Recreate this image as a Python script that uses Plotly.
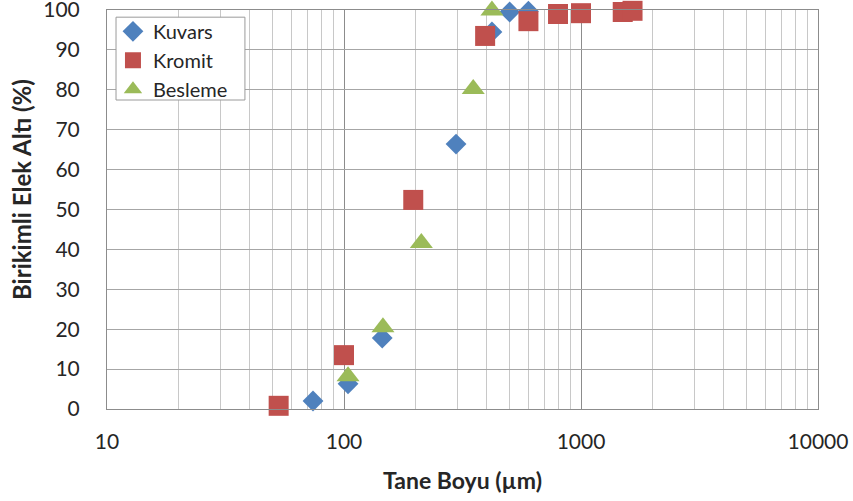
import plotly.graph_objects as go

kuvars_x = [74, 104, 145, 297, 421, 500, 600]
kuvars_y = [2, 6.3, 17.8, 66.4, 94.5, 99.5, 99.7]

kromit_x = [53, 100, 196, 394, 600, 800, 1000, 1500, 1650]
kromit_y = [0.8, 13.5, 52.4, 93.5, 97.2, 99.0, 99.2, 99.5, 99.8]

besleme_x = [104, 146, 212, 351, 421]
besleme_y = [8.2, 20.5, 41.6, 80.2, 99.9]

x_ticks = [10, 100, 1000, 10000]
x_ticklabels = ["10", "100", "1000", "10000"]
y_ticks = list(range(0, 101, 10))

font_family = "Lato, Open Sans, sans-serif"
txt = "#262626"

fig = go.Figure()
fig.add_trace(go.Scatter(x=kuvars_x, y=kuvars_y, mode="markers", name="Kuvars",
                         marker=dict(symbol="diamond", size=16, color="#4F81BD"),
                         cliponaxis=False))
fig.add_trace(go.Scatter(x=kromit_x, y=kromit_y, mode="markers", name="Kromit",
                         marker=dict(symbol="square", size=20, color="#C0504D"),
                         cliponaxis=False))
fig.add_trace(go.Scatter(x=besleme_x, y=besleme_y, mode="markers", name="Besleme",
                         marker=dict(symbol="triangle-up", size=20, color="#9BBB59"),
                         cliponaxis=False))

# legend frame drawn as a shape so its size matches the original
fig.add_shape(type="rect", xref="paper", yref="paper",
              x0=0.0127, x1=0.194, y0=0.7744, y1=0.982,
              line=dict(color="#9a9a9a", width=1), fillcolor="white", layer="above")

# y-axis title as an annotation for exact placement
fig.add_annotation(text="<b>Birikimli Elek Altı (%)</b>", xref="paper", yref="paper",
                   x=-0.1195, y=0.549, xanchor="center", yanchor="middle",
                   textangle=-90, showarrow=False,
                   font=dict(size=24, color=txt, family=font_family))

fig.update_layout(
    width=853, height=501,
    margin=dict(l=107, r=35, t=10, b=92, autoexpand=False),
    plot_bgcolor="white", paper_bgcolor="white",
    font=dict(family=font_family, size=21, color=txt),
    showlegend=True,
    legend=dict(x=0.0084, y=0.9955, xanchor="left", yanchor="top",
                borderwidth=0, bgcolor="rgba(0,0,0,0)",
                font=dict(size=20, color=txt),
                itemsizing="trace", tracegroupgap=0, itemwidth=30),
    xaxis=dict(
        type="log", range=[1, 4], automargin=False,
        tickvals=x_ticks, ticktext=x_ticklabels,
        showgrid=True, gridcolor="#8c8c8c", gridwidth=1,
        minor=dict(dtick="D1", showgrid=True, gridcolor="#c8c8c8", gridwidth=1),
        showline=True, linecolor="#8c8c8c", mirror=True,
        ticks="", tickfont=dict(size=21, color=txt),
        ticklabelstandoff=14, ticklabeloverflow="allow",
        title=dict(text="<b>Tane Boyu (µm)</b>", font=dict(size=23, color=txt), standoff=20),
        zeroline=False,
    ),
    yaxis=dict(
        range=[0, 100], tickvals=y_ticks, automargin=False,
        showgrid=True, gridcolor="#a6a6a6", gridwidth=1,
        showline=True, linecolor="#8c8c8c", mirror=True,
        ticks="", tickfont=dict(size=21, color=txt),
        ticklabelstandoff=22, ticklabeloverflow="allow",
        zeroline=False,
    ),
)

# remove the default 8px page margin so the figure fills the window exactly
fig.write_html("out.html", config={"displayModeBar": False},
               post_script="document.body.style.margin='0';")
